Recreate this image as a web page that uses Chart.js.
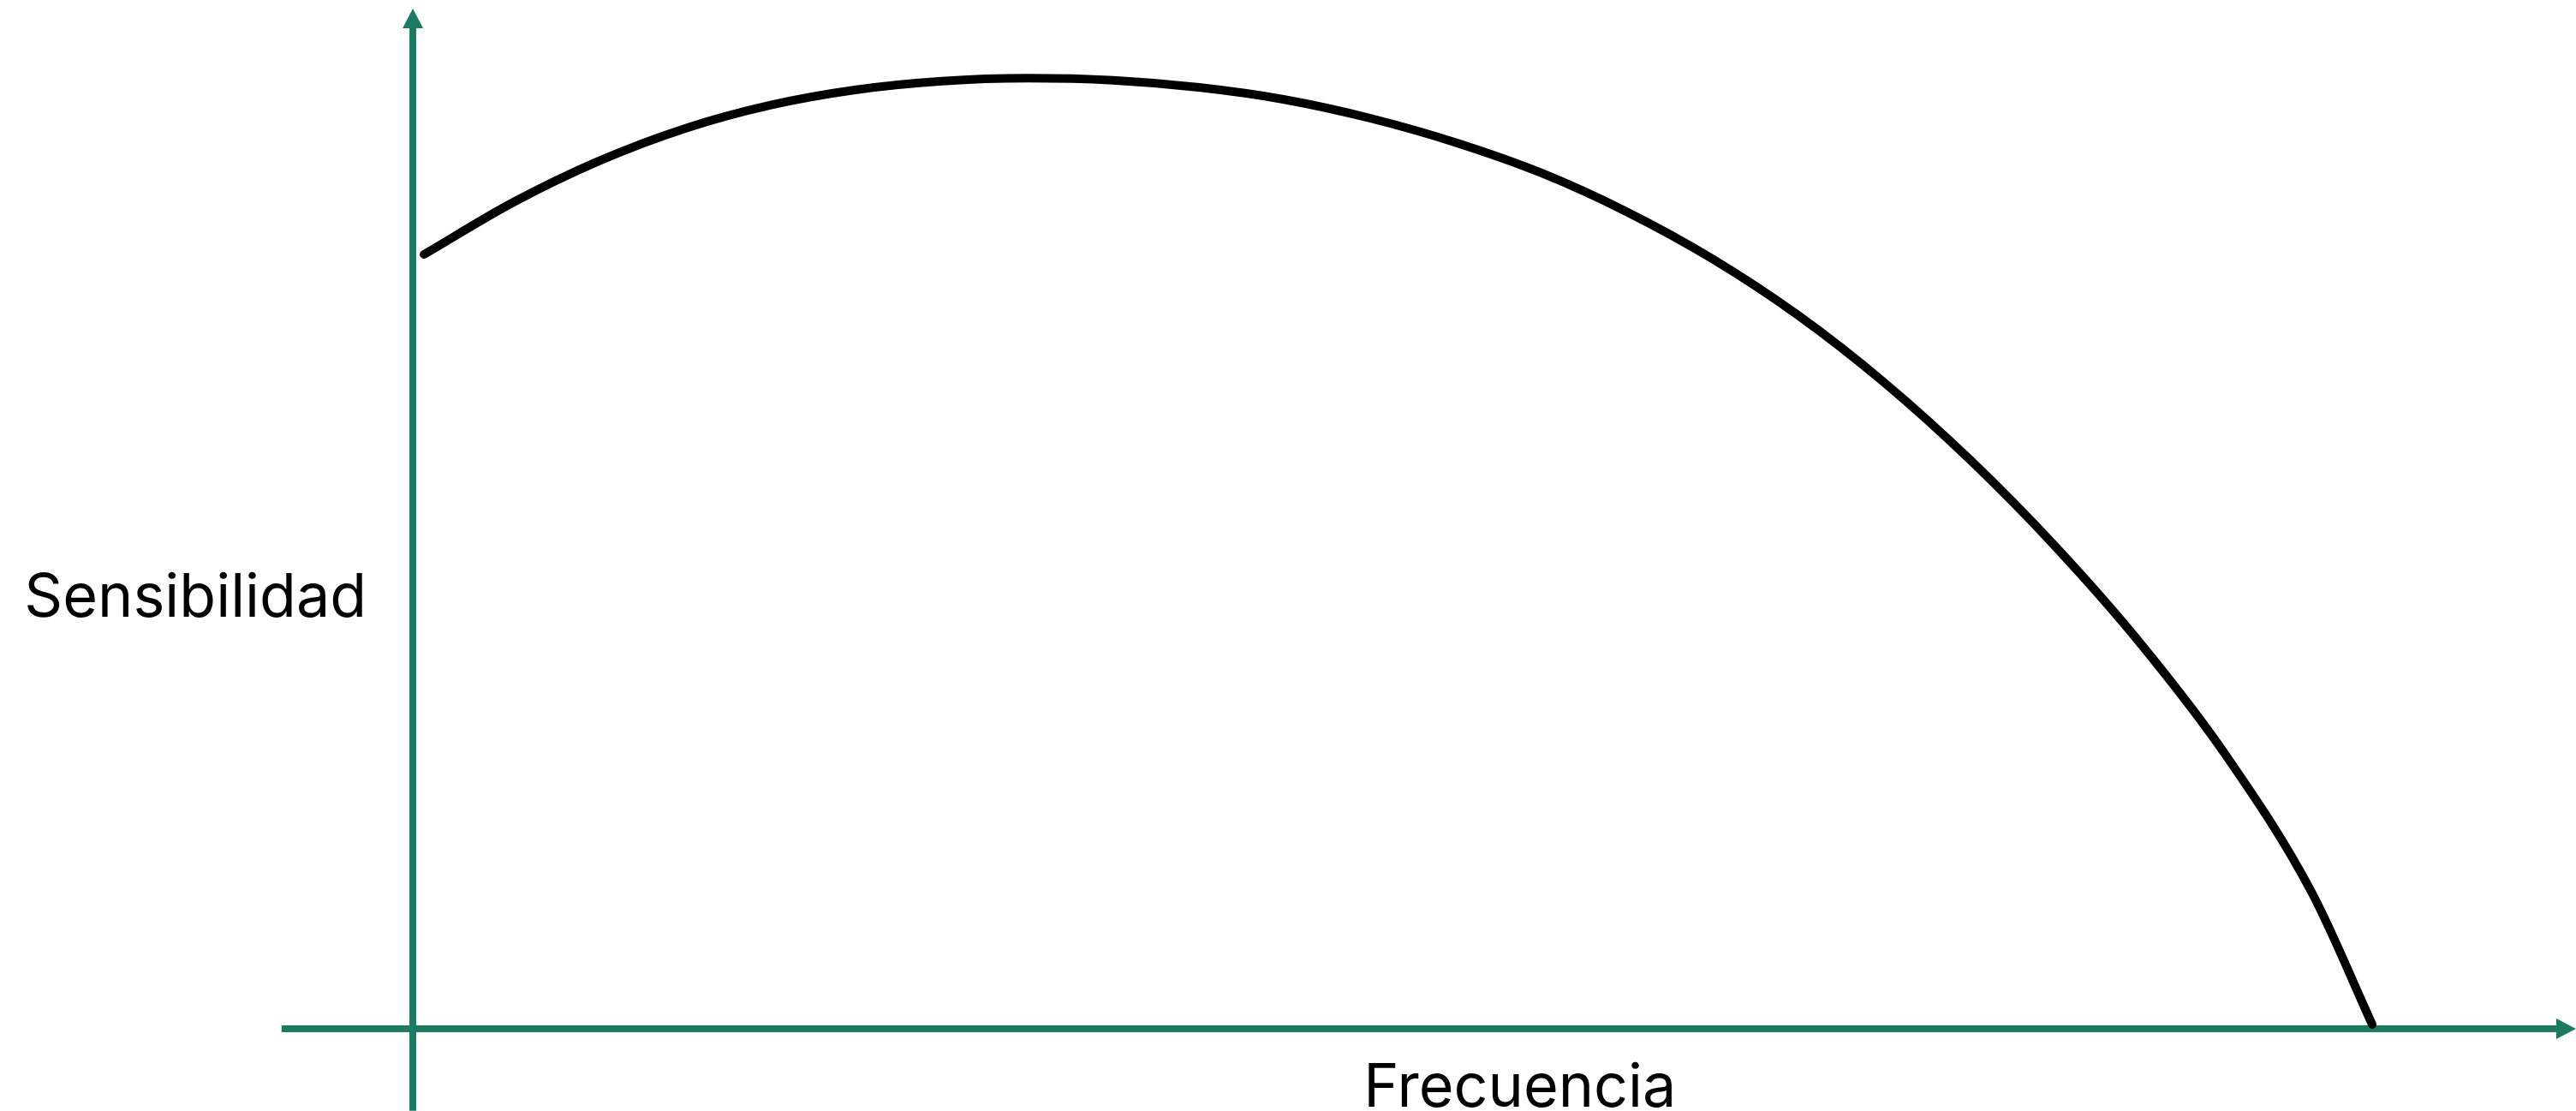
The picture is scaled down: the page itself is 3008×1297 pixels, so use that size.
<!DOCTYPE html>
<html>
<head>
<meta charset="utf-8">
<title>Sensibilidad vs Frecuencia</title>
<script src="https://cdn.jsdelivr.net/npm/chart.js@4/dist/chart.umd.min.js"></script>
<style>
    html, body { margin: 0; padding: 0; background: #ffffff; }
    canvas { display: block; }
</style>
</head>
<body>
<canvas id="curve-chart" width="3008" height="1297"></canvas>
<script>
// frequency (x) and sensitivity (y), arbitrary units
const frecuencia = [0.57, 5.16, 9.53, 13.90, 18.27, 22.64, 27.01, 31.38, 35.75, 40.12, 44.49, 48.86, 53.23, 57.60, 61.97, 66.35, 70.72, 75.09, 79.46, 83.83, 88.20, 92.57, 96.94, 100];
const sensibilidad = [81.29, 86.80, 91.13, 94.52, 96.97, 98.58, 99.48, 99.79, 99.57, 98.82, 97.55, 95.59, 93.03, 89.84, 85.75, 80.80, 74.87, 67.85, 59.76, 50.63, 40.38, 28.60, 14.21, 0.45];

// where the two axis arrows start and end, in data units
const xAxisSpan = [-6.7, 110.4];
const yAxisSpan = [-8.6, 107.1];

const xTitle = 'Frecuencia';
const yTitle = 'Sensibilidad';

const axisColor = '#1d7a62';

const axesPlugin = {
    id: 'arrowAxes',
    beforeDatasetsDraw(chart) {
        const { ctx, scales: { x, y } } = chart;
        const x0 = x.getPixelForValue(0);
        const y0 = y.getPixelForValue(0);
        const head = 23, half = 12;

        ctx.save();
        ctx.strokeStyle = axisColor;
        ctx.fillStyle = axisColor;
        ctx.lineWidth = 8;

        // horizontal axis
        const hx1 = x.getPixelForValue(xAxisSpan[0]);
        const hx2 = x.getPixelForValue(xAxisSpan[1]);
        ctx.beginPath();
        ctx.moveTo(hx1, y0);
        ctx.lineTo(hx2 - head + 2, y0);
        ctx.stroke();
        ctx.beginPath();
        ctx.moveTo(hx2, y0);
        ctx.lineTo(hx2 - head, y0 - half);
        ctx.lineTo(hx2 - head, y0 + half);
        ctx.closePath();
        ctx.fill();

        // vertical axis
        const vy1 = y.getPixelForValue(yAxisSpan[0]);
        const vy2 = y.getPixelForValue(yAxisSpan[1]);
        ctx.beginPath();
        ctx.moveTo(x0, vy1);
        ctx.lineTo(x0, vy2 + head - 2);
        ctx.stroke();
        ctx.beginPath();
        ctx.moveTo(x0, vy2);
        ctx.lineTo(x0 - half, vy2 + head);
        ctx.lineTo(x0 + half, vy2 + head);
        ctx.closePath();
        ctx.fill();

        // titles
        ctx.fillStyle = '#000000';
        ctx.font = '70px Inter, "Noto Sans", sans-serif';
        ctx.textBaseline = 'alphabetic';
        ctx.textAlign = 'right';
        ctx.fillText(yTitle, x0 - 54, 720);
        ctx.textAlign = 'center';
        ctx.fillText(xTitle, x.getPixelForValue(56.5), y0 + 91);
        ctx.restore();
    }
};

const ctx = document.getElementById('curve-chart').getContext('2d');
const curveChart = new Chart(ctx, {
    type: 'line',
    data: {
        labels: frecuencia,
        datasets: [{
            label: yTitle,
            data: frecuencia.map((f, i) => ({ x: f, y: sensibilidad[i] })),
            borderColor: '#000000',
            borderWidth: 10,
            borderCapStyle: 'round',
            borderJoinStyle: 'round',
            pointRadius: 0,
            fill: false,
            cubicInterpolationMode: 'monotone',
        }]
    },
    options: {
        responsive: false,
        animation: false,
        devicePixelRatio: 1,
        layout: { padding: 0 },
        plugins: {
            legend: { display: false },
            tooltip: { enabled: false },
        },
        scales: {
            x: {
                type: 'linear',
                display: false,
                min: -21.07,
                max: 110.4,
            },
            y: {
                type: 'linear',
                display: false,
                min: -8.63,
                max: 108.0,
            }
        }
    },
    plugins: [axesPlugin]
});
</script>
</body>
</html>
